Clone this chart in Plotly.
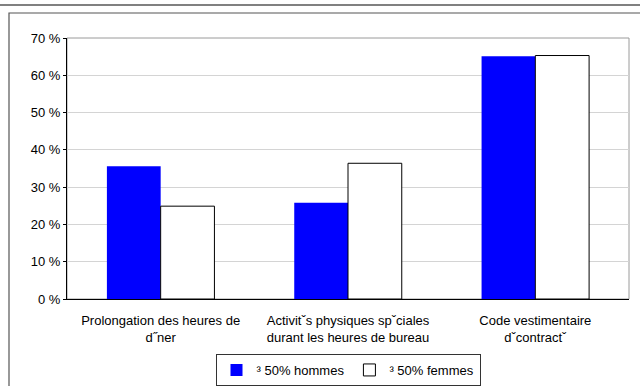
import plotly.graph_objects as go

# Survey categories and shares (%) by group
categories = [
    "Prolongation des heures de<br>d˝ner",
    "Activitˇs physiques spˇciales<br>durant les heures de bureau",
    "Code vestimentaire<br>dˇcontractˇ",
]
hommes = [35.6, 25.8, 65.1]
femmes = [24.9, 36.4, 65.3]
series_names = ["³ 50% hommes", "³ 50% femmes"]
y_ticks = [0, 10, 20, 30, 40, 50, 60, 70]
y_tick_text = [f"{v} %" for v in y_ticks]

W, H = 640, 386
L, R, T, B = 67, 11, 38, 87
pw, ph = W - L - R, H - T - B

def px_x(p):
    return (p - L) / pw

def px_y(p):
    return (H - B - p) / ph

font = dict(family="Liberation Sans, Arial, sans-serif", size=13, color="black")

fig = go.Figure()
fig.add_trace(go.Bar(
    x=categories, y=hommes, name=series_names[0],
    marker=dict(color="#0000FF", line=dict(width=0)),
))
fig.add_trace(go.Bar(
    x=categories, y=femmes, name=series_names[1],
    marker=dict(color="white", line=dict(color="black", width=1)),
))

fig.update_layout(
    width=W, height=H,
    margin=dict(l=L, r=R, t=T, b=B, autoexpand=False),
    paper_bgcolor="white", plot_bgcolor="white",
    font=font,
    barmode="group", bargap=0.426, bargroupgap=0,
    showlegend=True,
    legend=dict(
        orientation="h", x=0.5, xanchor="center", y=px_y(354), yanchor="top",
        bordercolor="#333333", borderwidth=1, bgcolor="white",
        font=font, itemwidth=30, tracegroupgap=0,
    ),
    xaxis=dict(
        showline=True, linecolor="black", linewidth=1,
        ticks="", tickfont=font, showgrid=False, ticklabelstandoff=9,
    ),
    yaxis=dict(
        range=[0, 70], tickvals=y_ticks, ticktext=y_tick_text,
        showline=True, linecolor="black", linewidth=1,
        ticks="outside", ticklen=3, tickcolor="black",
        showgrid=True, gridcolor="#d4d4d4", gridwidth=1,
        zeroline=False, tickfont=font,
    ),
    shapes=[
        # gray border on top and right of the plot area
        dict(type="rect", xref="paper", yref="paper", x0=0, x1=1, y0=0, y1=1,
             line=dict(color="#9a9a9a", width=1), layer="below"),
        # outer chart frame
        dict(type="rect", xref="paper", yref="paper",
             x0=px_x(9), x1=px_x(660), y0=px_y(400), y1=px_y(13),
             line=dict(color="#555555", width=1.2)),
        # top rule
        dict(type="line", xref="paper", yref="paper",
             x0=px_x(-5), x1=px_x(660), y0=px_y(5), y1=px_y(5),
             line=dict(color="#808080", width=2)),
    ],
)

fig.write_html("out.html")
